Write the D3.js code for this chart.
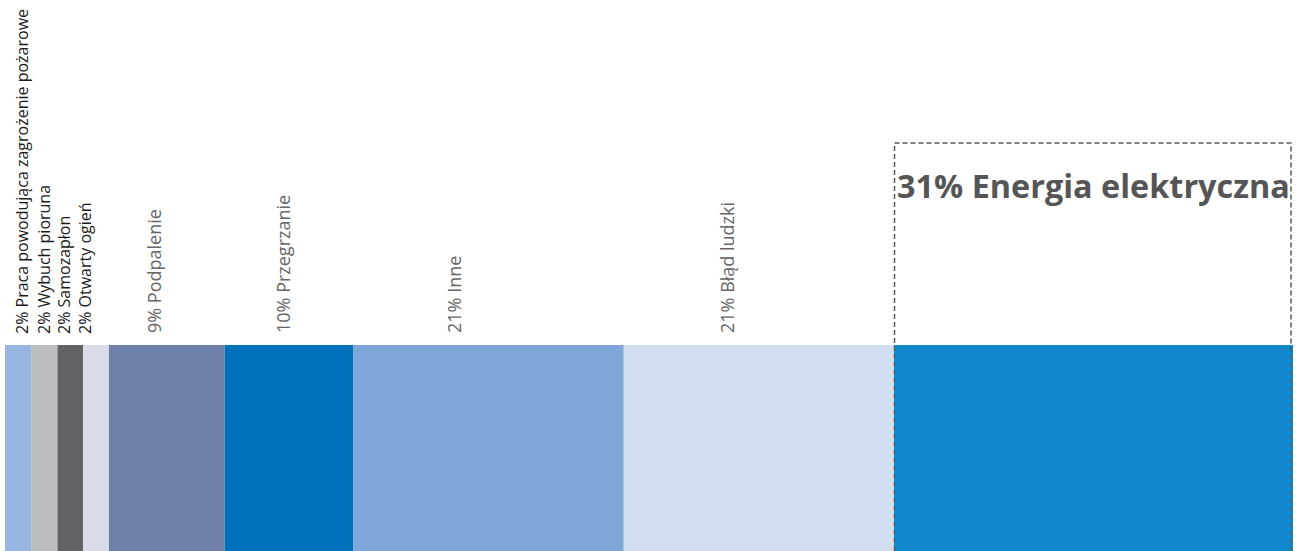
<!DOCTYPE html>
<html><head><meta charset="utf-8">
<script src="https://cdn.jsdelivr.net/npm/d3@7"></script>
<style>html,body{margin:0;padding:0;background:#fff;}svg{display:block;}</style>
</head><body>
<svg id="c" width="1301" height="551"></svg>
<script>
const categories = ["Praca powodująca zagrożenie pożarowe","Wybuch pioruna","Samozapłon","Otwarty ogień","Podpalenie","Przegrzanie","Inne","Błąd ludzki","Energia elektryczna"];
const values = [2,2,2,2,9,10,21,21,31];
const colors = ["#98b7e0","#bcbdc0","#616266","#d9dce8","#6f81aa","#0072bc","#7ea7d8","#d2dff0","#1188cc"];

const svg = d3.select("#c");
const x = d3.scaleLinear().domain([0, d3.sum(values)]).range([6, 1293]);
const barTop = 345, barBottom = 551;
let acc = 0;
const data = values.map((v,i)=>{const d={cat:categories[i],v,start:acc,color:colors[i],i};acc+=v;return d;});

svg.selectAll("rect.bar").data(data).enter().append("rect")
  .attr("class","bar")
  .attr("x",d=>d.i===0 ? x(d.start)-1 : x(d.start))
  .attr("width",d=>x(d.start+d.v)-x(d.start)+(d.i===0?1:0))
  .attr("y",barTop).attr("height",barBottom-barTop)
  .attr("fill",d=>d.color);

// label baseline positions relative to segment centre (layout)
const labelDx = [9, 5, 0, -5, -6, 1, -28, -25];
const small = data.slice(0,8);
svg.selectAll("text.lbl").data(small).enter().append("text")
  .attr("class","lbl")
  .attr("transform",(d,i)=>`translate(${x(d.start+d.v/2)+labelDx[i]},${d.i<4?334:333}) rotate(-90)`)
  .attr("text-anchor","start")
  .style("font-family","'Open Sans', sans-serif")
  .style("font-size", d=>d.i<4?"16px":"18px")
  .attr("fill", d=>d.i<4?"#1a1a1a":"#666")
  .text(d=>`${d.v}% ${d.cat}`);

const last = data[8];
const bx0 = x(last.start)+0.5, bx1 = x(last.start+last.v)-2;
svg.append("path")
  .attr("d",`M${bx0},${barBottom}V143H${bx1}V${barBottom}`)
  .attr("fill","none").attr("stroke","#5a5a5a").attr("stroke-width",1.5)
  .attr("stroke-dasharray","5,3");
svg.append("text")
  .attr("x",bx0+2.5).attr("y",198)
  .style("font-family","'Open Sans', sans-serif").style("font-size","32.4px").style("font-weight","bold")
  .attr("fill","#555")
  .text(`${last.v}% ${last.cat}`);
</script>
</body></html>
